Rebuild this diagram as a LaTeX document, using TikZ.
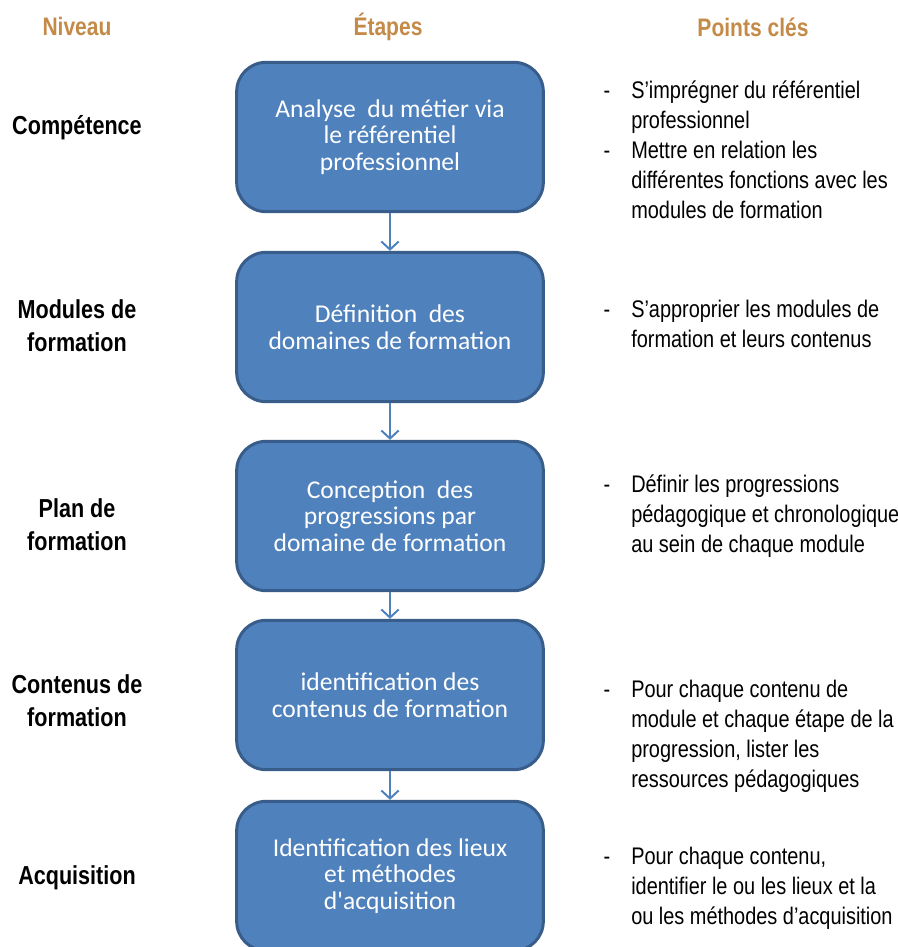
\documentclass[tikz,border=0pt]{standalone}
\usepackage{fontspec}
\setmainfont{Liberation Sans}
\newfontfamily\narrowfont{Liberation Sans}[FakeStretch=0.83]
\newfontfamily\boxfont{Carlito}
\usetikzlibrary{arrows.meta}
\definecolor{orangetitre}{RGB}{196,138,72}
\definecolor{bleuetape}{RGB}{79,129,189}
\definecolor{bordetape}{RGB}{56,93,138}

\begin{document}
\begin{tikzpicture}[x=0.75pt, y=-0.75pt,
    titre/.style={font=\narrowfont\bfseries\fontsize{19}{24}\selectfont, text=orangetitre, anchor=base},
    niveau/.style={font=\narrowfont\bfseries\fontsize{19.5}{24.5}\selectfont, align=center, anchor=base},
    etape/.style={draw=bordetape, line width=2.25pt, fill=bleuetape, rounded corners=22pt,
      minimum width=230pt, minimum height=112pt, text=white, align=center,
      font=\boxfont\fontsize{19.2}{20}\selectfont},
    point/.style={font=\narrowfont\fontsize{18}{22.5}\selectfont, align=left, anchor=base west, inner sep=0pt},
    tiret/.style={font=\narrowfont\fontsize{18}{22.5}\selectfont, anchor=base, inner sep=0pt},
    fleche/.style={draw=bleuetape, line width=1.5pt, -{Straight Barb[length=6pt,width=13pt]}}]
  \useasboundingbox (0,0) rectangle (898,947);

  % titres des colonnes
  \node[titre] (tniveau) at (77,35) {Niveau};
  \node[titre] (tetapes) at (388,35) {Étapes};
  \node[titre] (tpoints) at (753,36) {Points clés};

  % niveaux (base = derniere ligne)
  \node[niveau] (n1) at (77,134) {Compétence};
  \node[niveau] (n2) at (77,351) {Modules de\\formation};
  \node[niveau] (n3) at (77,550) {Plan de\\formation};
  \node[niveau] (n4) at (77,726) {Contenus de\\formation};
  \node[niveau] (n5) at (77,884) {Acquisition};

  % etapes
  \node[etape] (e1) at (390,137) {Analyse\ \ du métier via\\le référentiel\\professionnel};
  \node[etape] (e2) at (390,327) {Définition\ \ des\\domaines de formation};
  \node[etape] (e3) at (390,516) {Conception\ \ des\\progressions par\\domaine de formation};
  \node[etape] (e4) at (390,695) {identification des\\contenus de formation};
  \node[etape] (e5) at (390,876) {Identification des lieux\\et méthodes\\d\textquotesingle acquisition};

  \draw[fleche] (e1) -- (e2);
  \draw[fleche] (e2) -- (e3);
  \draw[fleche] (e3) -- (e4);
  \draw[fleche] (e4) -- (e5);

  % points cles (tiret sur la 1re ligne, texte calé sur la derniere)
  \node[tiret] (d1a) at (607,98) {-};
  \node[point] (p1a) at (631,128) {S’imprégner du référentiel\\professionnel};
  \node[tiret] (d1b) at (607,158) {-};
  \node[point] (p1b) at (631,218) {Mettre en relation les\\différentes fonctions avec les\\modules de formation};
  \node[tiret] (d2) at (607,317) {-};
  \node[point] (p2) at (631,347) {S’approprier les modules de\\formation et leurs contenus};
  \node[tiret] (d3) at (607,492) {-};
  \node[point] (p3) at (631,552) {Définir les progressions\\pédagogique et chronologique\\au sein de chaque module};
  \node[tiret] (d4) at (607,697) {-};
  \node[point] (p4) at (631,787) {Pour chaque contenu de\\module et chaque étape de la\\progression, lister les\\ressources pédagogiques};
  \node[tiret] (d5) at (607,864) {-};
  \node[point] (p5) at (631,924) {Pour chaque contenu,\\identifier le ou les lieux et la\\ou les méthodes d’acquisition};
\end{tikzpicture}
\end{document}
